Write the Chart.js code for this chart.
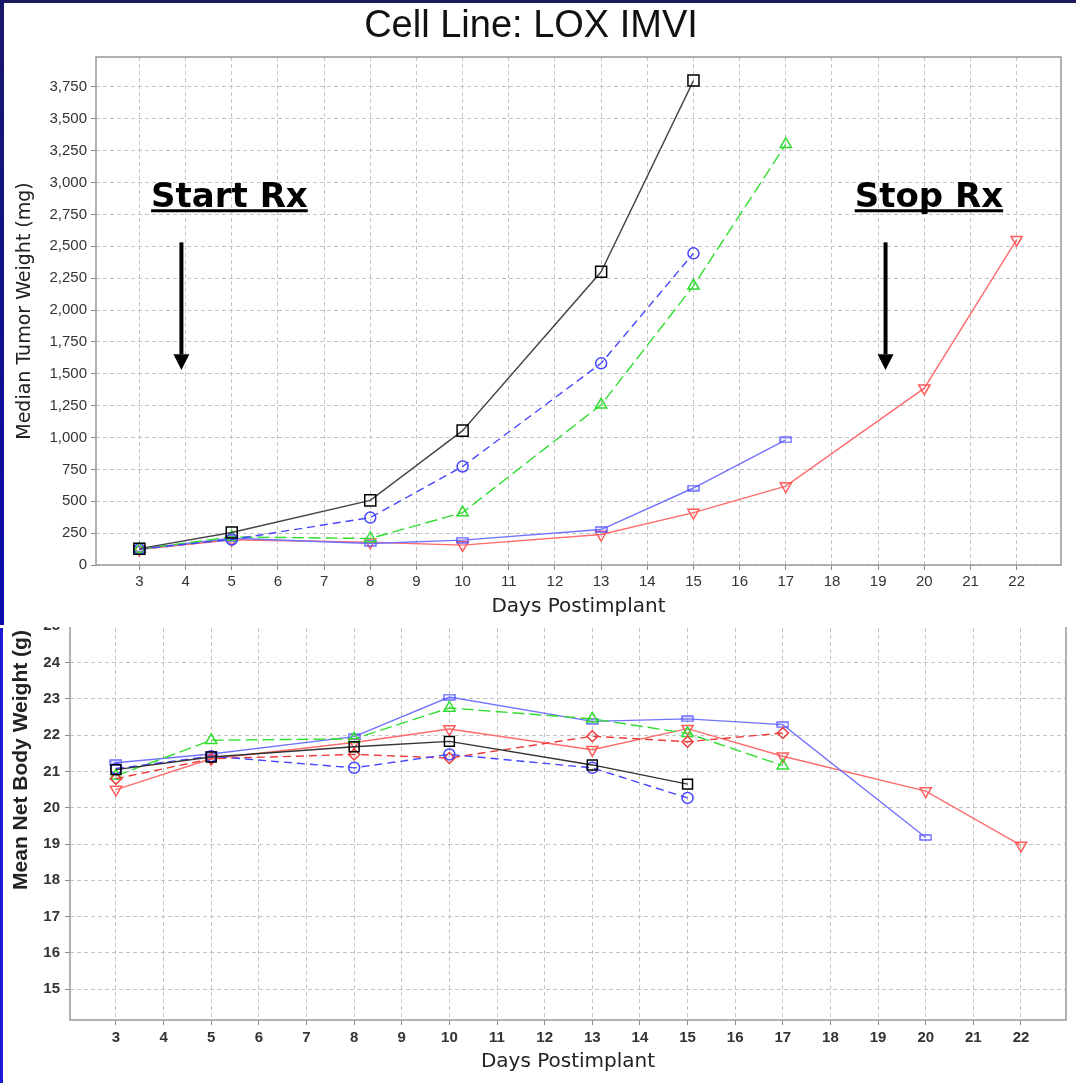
<!DOCTYPE html>
<html>
<head>
<meta charset="utf-8">
<script src="https://cdn.jsdelivr.net/npm/chart.js@4.4.1/dist/chart.umd.min.js"></script>
<style>
body { margin: 0; width: 1076px; height: 1083px; background: #fff; position: relative; overflow: hidden; font-family: 'Liberation Sans', Arial, sans-serif; }
#band-top { position: absolute; left: 0; top: 0; width: 1076px; height: 3px; background: #1c1c5c; }
#band-left1 { position: absolute; left: 0; top: 0; width: 4px; height: 625px; background: linear-gradient(#17176a, #0b0bb0); }
#band-left2 { position: absolute; left: 0; top: 628px; width: 3px; height: 455px; background: #1a1ad8; }
#title { position: absolute; left: 0; top: 5px; width: 1062px; text-align: center; font-size: 38px; line-height: 38px; color: #111; }
#top-chart { position: absolute; left: 0; top: 0; }
#bottom-wrap { position: absolute; left: 0; top: 627px; width: 1076px; height: 456px; overflow: hidden; }
#bottom-chart { position: absolute; left: 0; top: -27px; }
#body-title { position: absolute; left: -130px; top: 747px; width: 300px; height: 26px; line-height: 26px; text-align: center; font-size: 21px; font-weight: bold; color: #222; transform: rotate(-90deg); }
</style>
</head>
<body>
<div id="band-top"></div>
<div id="band-left1"></div>
<div id="band-left2"></div>
<canvas id="top-chart" width="1076" height="620"></canvas>
<div id="title">Cell Line: LOX IMVI</div>
<div id="bottom-wrap"><canvas id="bottom-chart" width="1076" height="483"></canvas></div>
<div id="body-title">Mean Net Body Weight (g)</div>
<script>
/* 데이터 */
var days = [3, 5, 8, 10, 13, 15, 17, 20, 22];
var dayTicks = [3, 4, 5, 6, 7, 8, 9, 10, 11, 12, 13, 14, 15, 16, 17, 18, 19, 20, 21, 22];
var tumorTicks = [0, 250, 500, 750, 1000, 1250, 1500, 1750, 2000, 2250, 2500, 2750, 3000, 3250, 3500, 3750];
var bodyTicks = [15, 16, 17, 18, 19, 20, 21, 22, 23, 24, 25];

var tumorBlack = [128, 255, 507, 1054, 2300, 3800];
var tumorBlueDash = [125, 200, 372, 773, 1582, 2445];
var tumorGreen = [125, 220, 208, 411, 1257, 2190, 3300];
var tumorBlue = [125, 210, 169, 195, 278, 604, 981];
var tumorRed = [122, 198, 178, 156, 239, 411, 619, 1387, 2552];

var bodyBlack = [21.05, 21.4, 21.68, 21.83, 21.18, 20.65];
var bodyBlueDash = [21.08, 21.42, 21.1, 21.47, 21.1, 20.27];
var bodyGreen = [20.88, 21.86, 21.9, 22.75, 22.45, 22.05, 21.16];
var bodyBlue = [21.24, 21.48, 21.96, 23.05, 22.38, 22.45, 22.29, 19.18];
var bodyRedDash = [20.8, 21.35, 21.47, 21.37, 21.97, 21.82, 22.06];
var bodyRed = [20.5, 21.35, 21.8, 22.17, 21.6, 22.18, 21.42, 20.46, 18.96];

var rxText = ['Start Rx', 'Stop Rx'];
var rxTextDay = [4.95, 20.1];
var rxArrowDay = [3.91, 19.16];

Chart.defaults.font.family = "'Liberation Sans', Arial, sans-serif";

function pts(vals){
    return vals.map(function(v, i){ return {x: days[i], y: v}; });
}

/* 납작한 사각형 마커 */
function flatRect(color){
    var c = document.createElement('canvas');
    c.width = 13; c.height = 7;
    var g = c.getContext('2d');
    g.strokeStyle = color;
    g.lineWidth = 1.3;
    g.strokeRect(1, 1, 11, 5);
    return c;
}

function series(vals, color, markColor, dash, style, radius, rot){
    return {
        data: pts(vals),
        borderColor: color,
        borderWidth: 1.4,
        borderDash: dash,
        tension: 0,
        fill: false,
        pointStyle: style,
        pointRadius: radius,
        pointRotation: rot || 0,
        pointBorderColor: markColor,
        pointBackgroundColor: 'rgba(0,0,0,0)',
        pointBorderWidth: 1.5
    };
}

function axis(min, max, ticks, size, opts){
    return {
        type: 'linear',
        min: min,
        max: max,
        afterBuildTicks: function(scale){
            scale.ticks = ticks.map(function(v){ return {value: v}; });
        },
        afterFit: function(scale){
            if (scale.isHorizontal()) scale.height = size; else scale.width = size;
        },
        grid: {color: '#c4c4c4', lineWidth: 1, tickLength: 5, tickColor: '#888', tickBorderDash: [], tickWidth: 1},
        border: {display: false, dash: [4, 3]},
        ticks: {
            color: '#333',
            font: {size: 15, weight: opts.bold ? 'bold' : 'normal'},
            padding: opts.pad,
            maxRotation: 0,
            autoSkip: false,
            callback: function(v){ return v.toLocaleString('en-US'); }
        },
        title: opts.title
    };
}

var frameBox = {
    id: 'frameBox',
    beforeDatasetsDraw: function(chart){
        var a = chart.chartArea, ctx = chart.ctx;
        ctx.save();
        ctx.strokeStyle = '#999';
        ctx.lineWidth = 1.5;
        ctx.strokeRect(a.left, a.top, a.right - a.left, a.bottom - a.top);
        ctx.restore();
    }
};

var rxMarks = {
    id: 'rxMarks',
    afterDraw: function(chart){
        var ctx = chart.ctx, xs = chart.scales.x, ys = chart.scales.y;
        ctx.save();
        ctx.fillStyle = '#000';
        ctx.strokeStyle = '#000';
        ctx.font = 'bold 34px "DejaVu Sans"';
        ctx.textAlign = 'center';
        ctx.textBaseline = 'alphabetic';
        for (var i = 0; i < rxText.length; i++){
            var cx = xs.getPixelForValue(rxTextDay[i]);
            ctx.fillText(rxText[i], cx, ys.getPixelForValue(2811));
            var w = ctx.measureText(rxText[i]).width;
            ctx.fillRect(cx - w / 2, ys.getPixelForValue(2779) - 1.5, w, 3);
            var ax = xs.getPixelForValue(rxArrowDay[i]);
            var base = ys.getPixelForValue(1653);
            ctx.lineWidth = 4;
            ctx.beginPath();
            ctx.moveTo(ax, ys.getPixelForValue(2531));
            ctx.lineTo(ax, base);
            ctx.stroke();
            ctx.beginPath();
            ctx.moveTo(ax - 8, base);
            ctx.lineTo(ax + 8, base);
            ctx.lineTo(ax, ys.getPixelForValue(1530));
            ctx.closePath();
            ctx.fill();
        }
        ctx.restore();
    }
};

/* 종양 무게 chart */
var topChart = new Chart(document.getElementById('top-chart'), {
    type: 'line',
    data: {
        datasets: [
            series(tumorBlack, '#444', '#000', [], 'rect', 7.8),
            series(tumorBlueDash, '#4545ff', '#4545ff', [8, 5], 'circle', 5.5),
            series(tumorGreen, '#30dd30', '#30dd30', [12, 5], 'triangle', 6.5),
            series(tumorBlue, '#7272ff', '#5555ff', [], flatRect('#5555ff'), 5),
            series(tumorRed, '#ff6c6c', '#ff5c5c', [], 'triangle', 6.5, 180)
        ]
    },
    options: {
        responsive: false,
        animation: false,
        layout: {padding: {left: 8, right: 15, top: 57, bottom: 0}},
        plugins: {legend: {display: false}, tooltip: {enabled: false}},
        scales: {
            x: axis(2.06, 22.96, dayTicks, 55, {pad: 3, title: {display: true, text: 'Days Postimplant', color: '#222', font: {family: '"DejaVu Sans"', size: 20}, padding: {top: 0, bottom: 1}}}),
            y: axis(0, 3985, tumorTicks, 88, {pad: 4, title: {display: true, text: 'Median Tumor Weight (mg)', color: '#222', font: {family: '"DejaVu Sans"', size: 19}, padding: {top: 6, bottom: 0}}})
        }
    },
    plugins: [frameBox, rxMarks]
});

/* 체중 chart */
var bottomChart = new Chart(document.getElementById('bottom-chart'), {
    type: 'line',
    data: {
        datasets: [
            series(bodyBlack, '#333', '#000', [], 'rect', 7),
            series(bodyBlueDash, '#4545ff', '#4545ff', [8, 5], 'circle', 5.5),
            series(bodyRedDash, '#ee3a3a', '#ee3a3a', [8, 5], 'rectRot', 5.5),
            series(bodyGreen, '#30dd30', '#30dd30', [12, 5], 'triangle', 6.5),
            series(bodyBlue, '#7272ff', '#5555ff', [], flatRect('#5555ff'), 5),
            series(bodyRed, '#ff6c6c', '#ff5c5c', [], 'triangle', 6.5, 180)
        ]
    },
    options: {
        responsive: false,
        animation: false,
        layout: {padding: {left: 6, right: 10, top: 11, bottom: 0}},
        plugins: {legend: {display: false}, tooltip: {enabled: false}},
        scales: {
            x: axis(2.035, 22.945, dayTicks, 63, {bold: true, pad: 4, title: {display: true, text: 'Days Postimplant', color: '#222', font: {family: '"DejaVu Sans"', size: 20}, padding: {top: 0, bottom: 9}}}),
            y: axis(14.15, 25.34, bodyTicks, 64, {bold: true, pad: 5, title: {display: false}})
        }
    },
    plugins: [frameBox]
});
</script>
</body>
</html>
